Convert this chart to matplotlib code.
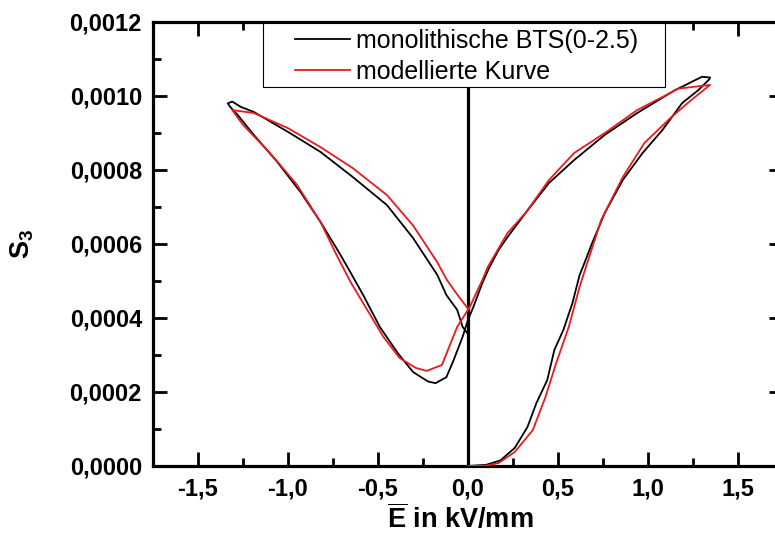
import matplotlib
matplotlib.use("Agg")
import matplotlib.pyplot as plt
from matplotlib.patches import Rectangle
from matplotlib.ticker import MultipleLocator, FuncFormatter

plt.rcParams['font.family'] = ['Liberation Sans', 'DejaVu Sans']
plt.rcParams['mathtext.fontset'] = 'custom'
plt.rcParams['mathtext.rm'] = 'Liberation Sans:bold'
plt.rcParams['mathtext.bf'] = 'Liberation Sans:bold'

# measured loop: virgin branch, down through the min, up to the left tip, back to 0
e_meas = [0.0, 0.1, 0.18, 0.26, 0.33, 0.38, 0.44, 0.48, 0.53, 0.58, 0.62, 0.64,
          0.69, 0.76, 0.86, 0.97, 1.08, 1.19, 1.28, 1.34, 1.345, 1.3, 1.25,
          1.21, 1.15, 0.94, 0.76, 0.59, 0.45, 0.32, 0.22, 0.17, 0.12, 0.08,
          0.03, 0.0, -0.03, -0.08, -0.12, -0.18, -0.22, -0.26, -0.305, -0.39,
          -0.49, -0.58, -0.67, -0.72, -0.82, -0.93, -1.06, -1.19, -1.28, -1.32,
          -1.335, -1.31, -1.26, -1.19, -1.0, -0.82, -0.64, -0.45, -0.305,
          -0.17, -0.12, -0.06, -0.03, -0.005]
s_meas = [0.0, 0.000003, 0.000015, 0.000049, 0.000105, 0.00017, 0.000232,
          0.000314, 0.000368, 0.00044, 0.000516, 0.00054, 0.000603, 0.000684,
          0.000773, 0.000846, 0.000908, 0.000981, 0.001016, 0.001045, 0.00105,
          0.001052, 0.00104, 0.00103, 0.001016, 0.000954, 0.000895, 0.000827,
          0.000765, 0.000684, 0.000619, 0.000584, 0.000538, 0.000495, 0.00043,
          0.000395, 0.000349, 0.000286, 0.00024, 0.000224, 0.000228, 0.00024,
          0.000254, 0.000305, 0.000376, 0.00046, 0.000538, 0.00058, 0.00066,
          0.00074, 0.000822, 0.000895, 0.000949, 0.00097, 0.00098, 0.000985,
          0.00097, 0.000957, 0.000903, 0.000849, 0.000781, 0.000705, 0.000616,
          0.000516, 0.000462, 0.000422, 0.000376, 0.00036]

# modelled loop
e_mod = [0.0, 0.1, 0.17, 0.26, 0.36, 0.43, 0.49, 0.56, 0.62, 0.65, 0.74, 0.86,
         0.98, 1.13, 1.24, 1.345, 1.17, 0.94, 0.76, 0.59, 0.45, 0.32, 0.22,
         0.11, 0.08, 0.01, -0.06, -0.145, -0.23, -0.29, -0.38, -0.47, -0.56,
         -0.65, -0.73, -0.82, -0.95, -1.1, -1.25, -1.31, -1.19, -1.0, -0.82,
         -0.64, -0.45, -0.305, -0.17, -0.12, -0.07, 0.0]
s_mod = [0.0, 0.000001, 0.000008, 0.000038, 0.000097, 0.000186, 0.000278,
         0.000376, 0.000484, 0.00053, 0.000665, 0.000781, 0.000873, 0.000943,
         0.000989, 0.00103, 0.00102, 0.000962, 0.0009, 0.000846, 0.000773,
         0.000684, 0.00063, 0.000538, 0.000503, 0.00043, 0.000376, 0.000273,
         0.000257, 0.000265, 0.000292, 0.000349, 0.000422, 0.000495, 0.00057,
         0.00066, 0.00076, 0.000846, 0.000922, 0.000962, 0.000954, 0.000913,
         0.000862, 0.000805, 0.000732, 0.00065, 0.00055, 0.000505, 0.00047,
         0.000425]

fig = plt.figure(figsize=(7.75, 5.37), dpi=100)
ax = fig.add_axes([153 / 775, 71 / 537, 630 / 775, 444 / 537])

ax.axvline(0, color='black', lw=2.3, zorder=1)
ax.plot(e_meas, s_meas, color='black', lw=1.3, label='monolithische BTS(0-2.5)', zorder=2)
ax.plot(e_mod, s_mod, color='#e8191f', lw=1.3, label='modellierte Kurve', zorder=3)

ax.set_xlim(-1.75, 1.75)
ax.set_ylim(0, 0.0012)
ax.xaxis.set_major_locator(MultipleLocator(0.5))
ax.xaxis.set_minor_locator(MultipleLocator(0.25))
ax.yaxis.set_major_locator(MultipleLocator(0.0002))
ax.yaxis.set_minor_locator(MultipleLocator(0.0001))
ax.xaxis.set_major_formatter(FuncFormatter(lambda v, p: f'{v:.1f}'.replace('.', ',')))
ax.yaxis.set_major_formatter(FuncFormatter(lambda v, p: f'{v:.4f}'.replace('.', ',')))

ax.tick_params(which='both', direction='in', top=True, right=True, width=2)
ax.tick_params(which='major', length=10, pad=8, labelsize=17)
ax.tick_params(which='minor', length=6)
for lab in ax.get_xticklabels() + ax.get_yticklabels():
    lab.set_fontweight('bold')
for sp in ax.spines.values():
    sp.set_linewidth(2.3)

ax.set_xlabel(r'$\overline{\mathrm{E}}$ in kV/mm', fontsize=19.5, fontweight='bold', labelpad=2)
ax.xaxis.label.set_x(0.487)
ax.set_ylabel(r'S$_\mathrm{3}$', fontsize=19.5, fontweight='bold', labelpad=24)

# legend frame drawn separately so the padding matches the original box
ax.add_patch(Rectangle((0.1746, 0.8536), 0.6381, 0.1441, transform=ax.transAxes,
                       facecolor='white', edgecolor='black', lw=0.8, zorder=4))
leg = ax.legend(loc='upper left', bbox_to_anchor=(0.2254, 0.985), borderaxespad=0,
                fontsize=18, handlelength=2.2, handletextpad=0.25, borderpad=0,
                labelspacing=0.3, frameon=False)
leg.set_zorder(5)

fig.savefig('out.png', dpi=100)
